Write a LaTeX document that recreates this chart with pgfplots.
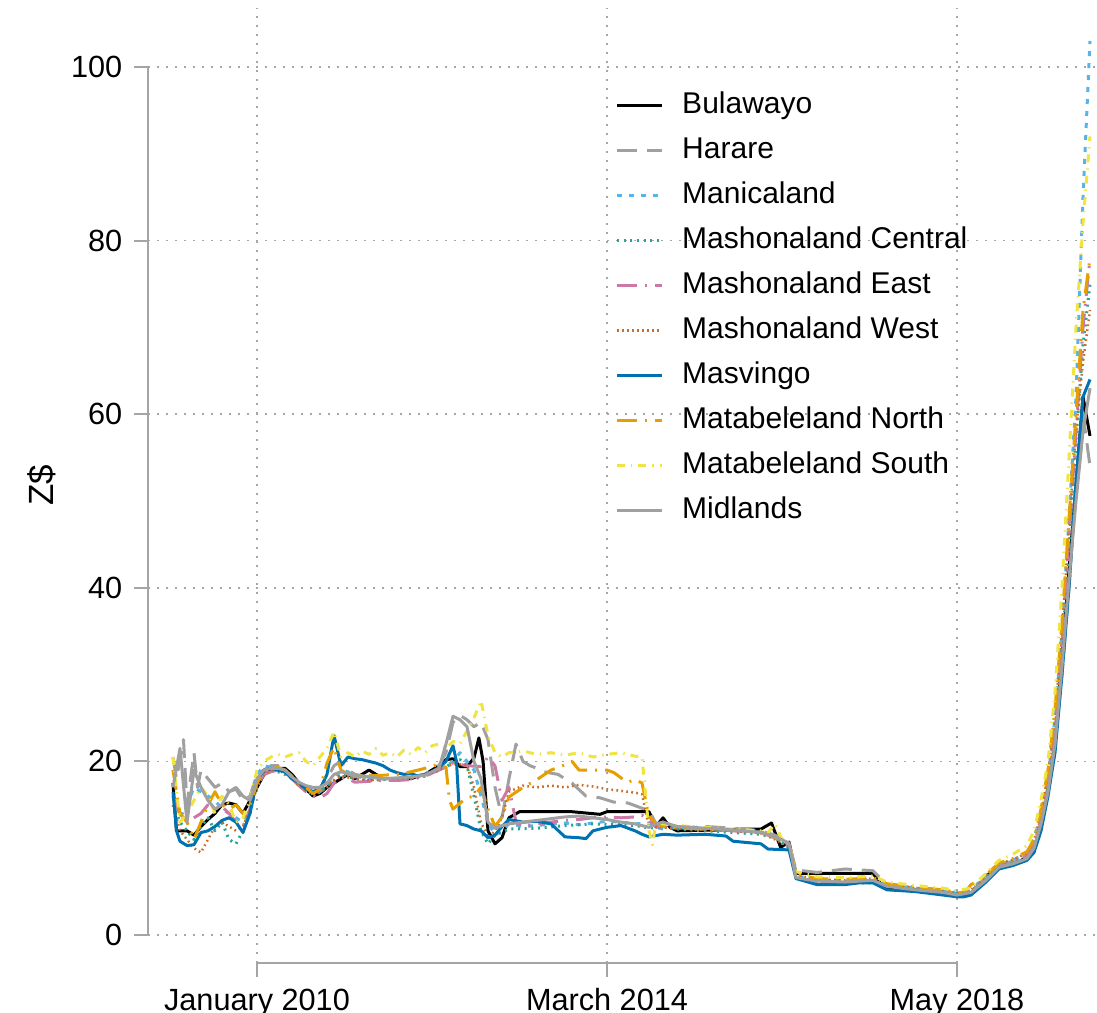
\documentclass[border=0pt]{standalone}
\usepackage{fontspec}
\setmainfont{Liberation Sans}
\usepackage{pgfplots}
\pgfplotsset{compat=1.18}
\definecolor{cblack}{RGB}{0,0,0}
\definecolor{cgray}{RGB}{160,160,160}
\definecolor{csky}{RGB}{86,180,233}
\definecolor{cturq}{RGB}{40,165,150}
\definecolor{creddish}{RGB}{204,121,167}
\definecolor{cverm}{RGB}{200,110,40}
\definecolor{csea}{RGB}{0,114,178}
\definecolor{corange}{RGB}{230,159,0}
\definecolor{cyellow}{RGB}{240,228,66}
\definecolor{caxis}{RGB}{165,165,165}
\begin{document}
\begin{tikzpicture}[font=\fontsize{9}{11}\selectfont]
\useasboundingbox (0pt,0pt) rectangle (329.1pt,-303.9pt);
\begin{axis}[
 at={(44.4pt,-288.9pt)}, anchor=south west,
 scale only axis, width=284.7pt, height=286.5pt,
 xmin=-15.57, xmax=120, ymin=-3.23, ymax=106.8,
 axis line style={draw=none},
 clip=false,
 tick align=outside, xtick pos=bottom, ytick pos=left,
 major tick length=4.2pt,
 tick style={caxis, line width=0.6pt},
 xtick={0,50,100},
 xticklabels={January 2010, March 2014, May 2018},
 ytick={0,20,40,60,80,100},
 /pgf/number format/assume math mode=true,
 yticklabel style={font=\fontsize{9.2}{11}\selectfont},
 xticklabel style={font=\fontsize{9.2}{11}\selectfont},
 grid=major,
 major grid style={draw=gray!70, line width=0.5pt, dash pattern=on 0.5pt off 2.2pt},
 ylabel={Z\$},
 ylabel style={at={(axis description cs:-0.112,0.5)}, anchor=center, font=\fontsize{10.5}{12}\selectfont},
 legend cell align=left,
 legend image code/.code={\draw[#1] (0pt,0pt) -- (13.5pt,0pt);},
 legend style={draw=none, fill=none, at={(axis description cs:0.492,0.916)}, anchor=north west,
   inner sep=0pt, row sep=3.5pt, font=\fontsize{9}{10}\selectfont,
   nodes={inner sep=0.5pt, text height=7pt, text depth=2pt},
   /tikz/every odd column/.append style={column sep=5.1pt}},
 every axis plot/.append style={line width=0.9pt, line join=round},
]
% Bulawayo
\addplot[cblack] coordinates {(-12,17.5) (-11.5,12) (-10,12) (-9,11.5) (-8,12.5) (-7,13.3) (-6,14) (-5,15) (-4,15.2) (-3,15) (-2,14) (-1,15.5) (0,17) (1,18.5) (2,19) (3,19.2) (4,19.2) (5,18.5) (6,17.5) (7,16.8) (8,16) (9,16.3) (10,17) (11,17.5) (12,18) (13,18.5) (14,18) (15,18.5) (16,19) (17,18.5) (18,18) (20,18) (22,18) (23,18.3) (24,18.5) (25,19) (26,19.5) (27,20.2) (28,20.3) (29,19.4) (30,19.4) (31,20.4) (31.7,22.7) (32.3,20) (33,12) (34,10.5) (35,11.2) (36,13.5) (37.5,14.2) (40,14.2) (45,14.2) (49,13.9) (50,14.2) (55,14.2) (56,14.2) (57,12.5) (58,13.5) (59,12.4) (60,12) (66,12.1) (70,12.2) (72,12.2) (73.5,12.9) (74.8,10.1) (76,10.7) (77,7.1) (80,7.1) (85,7.1) (88,7.1) (89,6) (90,5.5) (94,5.2) (98,4.9) (100,4.7) (101,4.5) (102,4.8) (103,5.5) (104,6.5) (105,7.5) (106,8) (107,8.2) (108,8.3) (109,8.5) (110,9) (111,10) (112,12.5) (113,17) (114,22) (115,32) (116,42) (117,52) (118,62) (119,57.5)};
\addlegendentry{Bulawayo}
% Harare
\addplot[cgray, dash pattern=on 6pt off 3pt] coordinates {(-12,20.5) (-11.5,18) (-10.5,22.5) (-10,15) (-9,21) (-8.5,17) (-8,19) (-7,18) (-6,17) (-5,17.5) (-4,16.5) (-3,16.8) (-2,15.5) (-1,16) (0,18.5) (1,19) (2,19.5) (3,19.5) (4,19) (5,18) (6,17.5) (7,17) (8,16.5) (9,17) (10,18) (11,19.5) (12,20) (13,19) (14,18.5) (16,18.2) (18,18) (20,18) (22,18.2) (24,18.5) (26,19.5) (27,21) (28,24.5) (29,25.3) (30,24.8) (31,24) (32,24.5) (33,22.5) (34,17) (35,13.5) (36,18) (37,22) (38,20) (39,19.5) (40,19.2) (41,18.8) (43,18.5) (45,17.5) (47,16) (49,15.8) (51,15.3) (53,15.2) (55,14.6) (56,14.4) (57,12.8) (58,12.5) (60,12.3) (64,12.5) (68,12.3) (72,12) (74,11.5) (76,10.5) (77,7.5) (80,7.2) (84,7.6) (88,7.4) (90,5.8) (94,5.4) (98,5) (100,4.8) (102,5) (104,6.6) (106,8.1) (108,8.5) (110,9.2) (111,10.5) (112,13) (113,17) (114,22) (115,30) (116,40) (117,52) (118,60) (119,54)};
\addlegendentry{Harare}
% Manicaland
\addplot[csky, dash pattern=on 1.5pt off 2.1pt] coordinates {(-12,16) (-11,13.5) (-10,15) (-9,17) (-8,16.5) (-7,16) (-6,15.5) (-5,14.5) (-4,14) (-3,13.5) (-2,13) (-1,14.5) (0,18.5) (1,19.5) (2,19.3) (3,19) (4,18.8) (5,18.2) (6,17.5) (7,17) (8,16.8) (9,16.5) (10,17.2) (11,18) (12,19) (13,18.8) (14,18.3) (16,18) (18,18) (20,18) (22,18.2) (24,18.5) (26,19) (27,19.5) (28,20) (29,21) (30,20) (31,19) (32,16) (33,13) (34,11.5) (35,12) (36,12.8) (38,12.5) (40,12.6) (42,12.8) (44,12.9) (46,12.7) (48,12.9) (50,13.1) (52,13) (54,12.8) (56,12.9) (57,12.4) (58,12.2) (60,12.4) (64,12.3) (68,12.1) (72,11.8) (74,11.3) (76,10.2) (77,6.8) (80,6.4) (84,6.2) (88,6.3) (90,5.9) (94,5.4) (98,5.2) (100,4.9) (102,5.1) (104,6.8) (106,8.1) (108,8.6) (110,9.5) (111,11) (112,14) (113,18) (114,25) (115,35) (116,48) (117,62) (118,85) (119,103)};
\addlegendentry{Manicaland}
% Mashonaland Central
\addplot[cturq, dash pattern=on 0.6pt off 1.4pt] coordinates {(-12,15) (-11,13) (-10,12) (-9,11) (-8,12.5) (-7,13.5) (-6,12) (-5,13) (-4,11) (-3,10.5) (-2,12) (-1,14) (0,17.5) (1,19) (2,19) (3,18.8) (4,18.5) (5,18) (6,17.3) (7,16.8) (8,16.2) (9,16.5) (10,17.2) (11,17.8) (12,18.5) (14,18) (16,17.8) (18,17.9) (20,18) (22,18) (24,18.3) (26,19) (28,19.8) (29,20.2) (30,19.5) (31,16) (32,12) (33,10.5) (34,11.5) (36,12.2) (40,12.3) (44,12.6) (48,12.8) (52,12.7) (55,12.5) (56,12.3) (58,12.5) (60,12.2) (64,12) (68,11.8) (72,11.6) (74,11.2) (76,10) (77,6.5) (80,6.1) (84,6) (88,6) (90,5.6) (94,5.2) (98,5) (100,4.7) (102,5) (104,6.4) (106,7.9) (108,8.3) (110,9) (111,10.2) (112,13) (113,17) (114,23) (115,33) (116,44) (117,57) (118,68) (119,75)};
\addlegendentry{Mashonaland Central}
% Mashonaland East
\addplot[creddish, dash pattern=on 6pt off 2.4pt on 0.6pt off 2.4pt] coordinates {(-12,16) (-11,14) (-10,13) (-9,13.5) (-8,14) (-7,15) (-6,14.5) (-5,14.8) (-4,14) (-3,13) (-2,12.5) (-1,14.5) (0,17.2) (1,18.5) (2,18.8) (3,19) (4,18.7) (5,18) (6,17.2) (7,16.5) (8,16) (9,15.8) (10,16.3) (11,17.5) (12,18.2) (13,18) (14,17.6) (16,17.7) (18,17.8) (20,17.8) (22,17.9) (24,18.3) (26,19) (28,19.8) (30,19.5) (32,19.4) (33,20.5) (34,19.5) (35,15.5) (36,17) (37,13) (38,12.5) (40,12.8) (42,13) (44,13.2) (46,13.3) (48,13.5) (50,13.6) (52,13.5) (54,13.6) (55,13.8) (56,13.2) (57,12.4) (58,12.6) (60,12.5) (64,12.2) (68,12) (72,11.8) (74,11.2) (76,10.3) (77,6.8) (80,6.3) (84,6.2) (88,6.4) (90,5.7) (94,5.3) (98,4.8) (100,4.6) (102,4.8) (104,6.3) (106,7.8) (108,8.3) (110,9.1) (111,10.3) (112,13.5) (113,18) (114,24) (115,34) (116,46) (117,58) (118,70) (119,78)};
\addlegendentry{Mashonaland East}
% Mashonaland West
\addplot[cverm, line width=0.75pt, dash pattern=on 0.5pt off 1pt] coordinates {(-12,15) (-11,12) (-10,11) (-9,10) (-8,9.5) (-7,11) (-6,12.5) (-5,13) (-4,12.5) (-3,12) (-2,12.5) (-1,14.5) (0,17) (1,18.5) (2,19) (3,19) (4,18.6) (5,18) (6,17.2) (7,16.6) (8,16.2) (9,16.4) (10,17) (11,17.8) (12,18.3) (14,18) (16,17.8) (18,18) (20,18) (22,18) (24,18.4) (26,19) (28,19.7) (30,19.6) (31,17) (32,13) (33,11.2) (34,12) (35,13.5) (36,16.5) (38,17.2) (40,17) (42,17.2) (44,17) (46,17.3) (48,17.1) (50,16.8) (52,16.6) (54,16.4) (55,16.2) (56,12.5) (58,12.4) (60,12.3) (64,12.1) (68,12) (72,11.7) (74,11) (76,10.2) (77,6.9) (80,6.4) (84,6.3) (88,6.5) (90,5.8) (94,5.4) (98,5.1) (100,4.8) (102,5.2) (104,6.6) (106,8.2) (108,8.7) (110,9.4) (111,10.8) (112,14) (113,18.5) (114,25) (115,35) (116,47) (117,58) (118,66) (119,72)};
\addlegendentry{Mashonaland West}
% Masvingo
\addplot[csea] coordinates {(-12,16.5) (-11.5,12) (-11,10.8) (-10,10.3) (-9,10.4) (-8,11.8) (-7,12) (-6,12.5) (-5,13.2) (-4,13.5) (-3,13) (-2,11.8) (-1,14) (0,17.8) (1,19) (2,19.2) (3,19) (4,18.8) (5,18) (6,17.5) (7,16.8) (8,16.5) (9,16.8) (10,18.5) (11,23) (12,19.5) (13,20.5) (14,20.3) (15,20.2) (16,20) (17,19.8) (18,19.5) (19,19) (20,18.7) (21,18.5) (22,18.6) (23,18.3) (24,18.5) (25,18.8) (26,19.3) (27,20) (28,21.8) (28.5,20) (29,12.8) (30,12.6) (31,12.2) (32,12) (33,11.2) (34,11.5) (35,12.5) (36,13.3) (38,13) (40,13.1) (42,12.8) (44,11.3) (46,11.2) (47,11.1) (48,12) (50,12.4) (52,12.6) (54,12) (55,11.6) (56,11.3) (58,11.6) (60,11.5) (64,11.6) (67,11.4) (68,10.8) (72,10.5) (73,9.9) (76,9.8) (77,6.5) (80,5.8) (84,5.8) (86,6) (88,6) (90,5.2) (94,5) (98,4.6) (100,4.4) (101,4.4) (102,4.6) (104,6) (106,7.6) (108,8) (110,8.6) (111,9.5) (112,12) (113,16) (114,21) (115,30) (116,40) (117,52) (118,62) (119,64)};
\addlegendentry{Masvingo}
% Matabeleland North
\addplot[corange, dash pattern=on 6pt off 2.4pt on 0.6pt off 2.4pt] coordinates {(-12,19) (-11,14) (-10,13) (-9,11) (-8,13) (-7,15) (-6,16.5) (-5,15) (-4,14.5) (-3,15) (-2,14) (-1,15) (0,17.5) (1,18.8) (2,19.2) (3,19.3) (4,19) (5,18.3) (6,17.5) (7,17) (8,16.3) (9,16.8) (10,19.8) (11,21.6) (12,19) (13,18.5) (14,18.3) (16,18.4) (18,18.4) (20,18.5) (22,18.8) (24,19.2) (25,19.5) (26,19.6) (27,19.3) (27.5,15.5) (28,14.5) (29,15.2) (30,15.8) (31,16) (32,17) (33,14.5) (34,12.5) (35,13.6) (36,15.9) (38,17) (40,17.9) (42,19) (44,19.6) (45,20) (46,19) (48,19) (50,19) (51,18.7) (52,18.1) (53,17.6) (54,17.9) (55,17.5) (56,13.6) (57,12.9) (58,12.5) (60,12.3) (64,12.2) (68,12.1) (72,11.9) (74,11.2) (76,10.5) (77,7) (80,6.5) (84,6.4) (88,6.6) (90,5.9) (94,5.5) (98,5.2) (100,4.9) (101,4.8) (102,5.8) (103,6.2) (104,6.8) (106,8.3) (108,8.8) (110,9.6) (111,11) (112,14.5) (113,19) (114,26) (115,36) (116,48) (117,60) (118,72) (119,78)};
\addlegendentry{Matabeleland North}
% Matabeleland South
\addplot[cyellow, dash pattern=on 2.4pt off 1.8pt on 0.4pt off 1.8pt] coordinates {(-12,20.5) (-11,13) (-10,14) (-9,15.5) (-8,17) (-7,16) (-6,14) (-5,16) (-4,15) (-3,13) (-2,13.5) (-1,15.5) (0,19) (1,20) (2,20.5) (3,20.8) (4,20.5) (5,20.8) (6,21) (7,20) (8,19.5) (9,20.5) (10,21.5) (11,23.4) (12,20.5) (13,21) (14,20.5) (15,21.2) (16,20.8) (17,21.5) (18,20.7) (19,21) (20,20.5) (21,21.3) (22,20.8) (23,21.6) (24,21) (25,21.8) (26,22) (27,21.5) (28,22.3) (29,22) (30,23.5) (31,25) (32,27) (33,23) (34,21) (35,20.5) (36,21) (38,21.2) (40,20.8) (42,21) (44,20.7) (46,21) (48,20.5) (50,20.8) (52,21) (54,20.6) (55,20.5) (56,12) (56.5,10.4) (57,13) (58,12.8) (60,12.6) (64,12.4) (68,12.2) (72,12) (73,11.8) (74,12.8) (75,11) (76,10.5) (77,7.3) (80,6.7) (84,6.6) (88,6.8) (90,6.1) (94,5.7) (98,5.4) (100,5.1) (102,5.4) (104,7) (106,8.6) (108,9.3) (110,10.3) (111,12) (112,15.5) (113,20) (114,28) (115,40) (116,55) (117,70) (118,82) (119,92)};
\addlegendentry{Matabeleland South}
% Midlands
\addplot[cgray] coordinates {(-12,17) (-11,21.5) (-10,13) (-9,19) (-8,17) (-7,15.5) (-6,14.5) (-5,15) (-4,16.5) (-3,17) (-2,16) (-1,15.5) (0,18) (1,19) (2,19.2) (3,19.2) (4,19) (5,18.2) (6,17.6) (7,17.2) (8,17) (9,17) (10,17.5) (11,18.5) (12,18.8) (13,18.6) (14,18.2) (16,18.2) (18,18) (20,18.1) (22,18.2) (24,18.4) (26,19.2) (27,22) (28,25.2) (29,24.8) (30,24) (31,20) (32,18) (33,13) (34,12.3) (35,12.6) (36,12.8) (38,13) (40,13.2) (42,13.4) (44,13.6) (46,13.7) (48,13.5) (50,13.3) (52,13) (54,12.8) (55,12.6) (56,12.4) (57,12.8) (58,13) (60,12.5) (64,12.3) (68,12.1) (72,11.8) (74,11.3) (76,10.6) (77,6.6) (80,6.2) (84,6.1) (88,6.3) (90,5.6) (94,5.2) (98,4.9) (100,4.6) (102,4.9) (104,6.2) (106,7.8) (108,8.2) (110,8.8) (111,10) (112,12.8) (113,16.5) (114,22) (115,31) (116,41) (117,50) (118,58) (119,63)};
\addlegendentry{Midlands}
\draw[caxis, line width=0.6pt] (axis cs:-15.57,0) -- (axis cs:-15.57,100);
\draw[caxis, line width=0.6pt] (axis cs:0,-3.23) -- (axis cs:100,-3.23);
\end{axis}
\end{tikzpicture}
\end{document}
